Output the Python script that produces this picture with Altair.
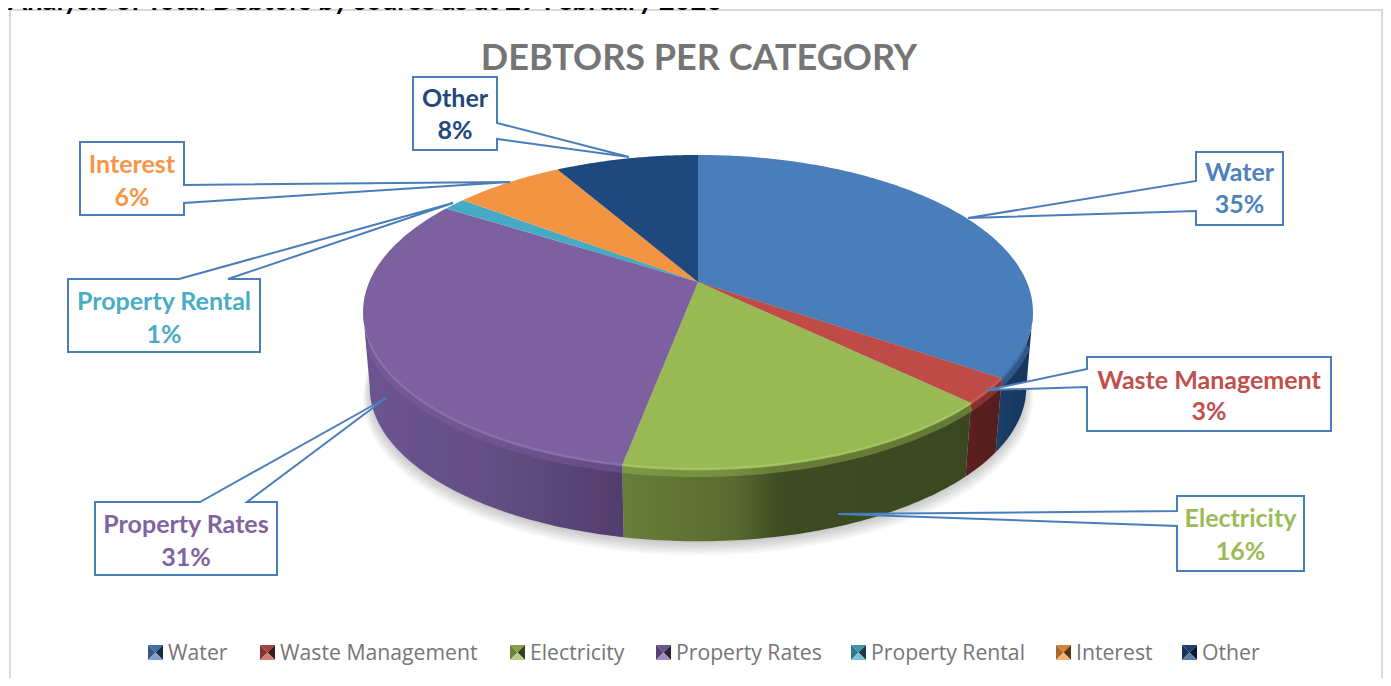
import math
import altair as alt
import pandas as pd

categories = ["Water", "Waste Management", "Electricity", "Property Rates", "Property Rental", "Interest", "Other"]
shares = [34.6, 2.6, 15.8, 31.0, 1.3, 6.4, 8.3]
percent_labels = ["35%", "3%", "16%", "31%", "1%", "6%", "8%"]
slice_colors = ["#4a7ebb", "#be4b48", "#98b954", "#7d60a0", "#46aac5", "#f29441", "#1f497d"]
text_colors = ["#4f81bd", "#c0504d", "#9bbb59", "#8064a2", "#4bacc6", "#f79646", "#1f497d"]
rim_colors = ["#3f6fa8", "#cf5c58", "#a9cb62", "#8d70b2", "#58bcd5", "#fba85c", "#2f5d90"]

PAGE_W, PAGE_H = 1383, 678
FONT = "Lato"
LINE = "#4a7ebb"

# 3-D pie projection
CX, CY = 698, 282
A, B, C = 151.3, 0.191, 328.8
DROP, SHRINK = 76, 0.98
SIDE_FROM, SIDE_TO = 28, 72
SOFT_FROM, SOFT_TO = 31, 69


def project(pct, k=1.0, dy=0.0):
    t = pct / 100 * 2 * math.pi
    u, v = math.sin(t), math.cos(t)
    den = 1 + B * v
    return CX + k * C * u / den, CY + dy - k * A * v / den


def arc(p0, p1, k=1.0, dy=0.0):
    n = max(2, int(abs(p1 - p0) * 4))
    return [project(p0 + (p1 - p0) * i / n, k, dy) for i in range(n + 1)]


def poly_rows(name, pts, color):
    return [{"g": name, "i": i, "x": p[0], "y": p[1], "c": color} for i, p in enumerate(pts)]


def mix(hexa, target, f):
    rgb = [int(hexa[i:i + 2], 16) for i in (1, 3, 5)]
    tgt = [int(target[i:i + 2], 16) for i in (1, 3, 5)]
    return "#" + "".join(f"{round(a + (b - a) * f):02x}" for a, b in zip(rgb, tgt))


X = alt.X("x:Q", scale=alt.Scale(domain=[8, PAGE_W], nice=False, zero=False), axis=None)
Y = alt.Y("y:Q", scale=alt.Scale(domain=[PAGE_H, 8], nice=False, zero=False), axis=None)


def polygons(rows):
    df = pd.DataFrame(rows)
    return alt.Chart(df).mark_line(interpolate="linear-closed", strokeWidth=0).encode(
        x=X, y=Y, detail="g:N", order=alt.Order("i:Q"),
        fill=alt.Fill("c:N", scale=None),
    )


def gradient_side(pts, stops):
    df = pd.DataFrame(poly_rows("s", pts, "#000000"))
    return alt.Chart(df).mark_line(
        interpolate="linear-closed", strokeWidth=0,
        fill=alt.Gradient(gradient="linear", x1=0, x2=1, y1=0, y2=0,
                          stops=[alt.GradientStop(offset=o, color=c) for o, c in stops]),
    ).encode(x=X, y=Y, order=alt.Order("i:Q"))


# cumulative boundaries
bounds = [0.0]
for s in shares:
    bounds.append(bounds[-1] + s)

layers = []

# frame
frame = pd.DataFrame({"x": [10, 10, 1382, 1382], "y": [678, 10, 10, 678], "i": [0, 1, 2, 3]})
layers.append(alt.Chart(frame).mark_line(color="#d9d9d9", strokeWidth=2).encode(x=X, y=Y, order=alt.Order("i:Q")))

# soft shadow beneath the pie
for j in range(6):
    pts = arc(0, 100, SHRINK + 0.004 * j, DROP + 2 + 1.6 * j)
    sdf = pd.DataFrame(poly_rows(f"sh{j}", pts, "#000000"))
    layers.append(alt.Chart(sdf).mark_line(interpolate="linear-closed", strokeWidth=0, fill="#000000", fillOpacity=0.035)
                  .encode(x=X, y=Y, order=alt.Order("i:Q")))


def side_pts(p0, p1):
    return arc(p0, p1) + arc(p1, p0, SHRINK, DROP)


# side walls
layers.append(gradient_side(side_pts(SIDE_FROM, bounds[1]), [(0, "#1b4069"), (1, "#15345a")]))
layers.append(gradient_side(side_pts(bounds[1], bounds[2]), [(0, "#5c2020"), (1, "#531c1c")]))
layers.append(gradient_side(side_pts(bounds[2], bounds[3]),
                            [(0, "#3a4720"), (0.55, "#3e4c22"), (0.68, "#5a6a30"), (1, "#677f39")][::-1] and
                            [(0, "#677f39"), (0.32, "#5a6a30"), (0.45, "#3e4c22"), (1, "#3a4720")]))
layers.append(gradient_side(side_pts(bounds[3], SIDE_TO),
                            [(0, "#6c5491"), (0.45, "#654f85"), (1, "#523d6d")]))

# soft transition from the top face into the wall
soft = []
for i, name in enumerate(categories):
    p0, p1 = max(bounds[i], SOFT_FROM), min(bounds[i + 1], SOFT_TO)
    if p1 > p0:
        soft += poly_rows(name, arc(p0, p1, 1.0, 4), slice_colors[i])
layers.append(alt.Chart(pd.DataFrame(soft)).mark_line(strokeWidth=8, strokeOpacity=0.45).encode(
    x=X, y=Y, detail="g:N", order=alt.Order("i:Q"), color=alt.Color("c:N", scale=None)))

# top faces
tops = []
for i, name in enumerate(categories):
    tops += poly_rows(name, [(CX, CY)] + arc(bounds[i], bounds[i + 1]), slice_colors[i])
layers.append(polygons(tops))

# bevel on the front rim
rim = []
for i, name in enumerate(categories):
    p0, p1 = max(bounds[i], SOFT_FROM), min(bounds[i + 1], SOFT_TO)
    if p1 > p0:
        rim += poly_rows(name, arc(p0, p1), rim_colors[i])
layers.append(alt.Chart(pd.DataFrame(rim)).mark_line(strokeWidth=2.5, strokeOpacity=0.8).encode(
    x=X, y=Y, detail="g:N", order=alt.Order("i:Q"), color=alt.Color("c:N", scale=None)))

# callouts: outline positions in page pixels (box corners, wedge base, wedge tip)
boxes = {
    "Water": (1196, 152, 1283, 225),
    "Waste Management": (1087, 357, 1331, 431),
    "Electricity": (1177, 496, 1304, 571),
    "Property Rates": (95, 502, 277, 575),
    "Property Rental": (68, 279, 260, 352),
    "Interest": (80, 142, 184, 215),
    "Other": (413, 77, 497, 150),
}
wedges = {
    "Water": ("left", 181, 211, 968, 218),
    "Waste Management": ("left", 369, 387, 987, 390),
    "Electricity": ("left", 511, 526, 838, 514),
    "Property Rates": ("top", 200, 247, 386, 398),
    "Property Rental": ("top", 179, 228, 453, 203),
    "Interest": ("right", 185, 203, 510, 182),
    "Other": ("right", 123, 139, 629, 157),
}
text_y = {
    "Water": (173, 205),
    "Waste Management": (381, 412),
    "Electricity": (519, 552),
    "Property Rates": (525, 558),
    "Property Rental": (302, 335),
    "Interest": (165, 198),
    "Other": (99, 131),
}

for name in categories:
    x0, y0, x1, y1 = boxes[name]
    side, a, b, tx, ty = wedges[name]
    if side == "left":
        pts = [(x0, y0), (x1, y0), (x1, y1), (x0, y1), (x0, b), (tx, ty), (x0, a)]
    elif side == "right":
        pts = [(x0, y0), (x1, y0), (x1, a), (tx, ty), (x1, b), (x1, y1), (x0, y1)]
    else:
        pts = [(x0, y0), (a, y0), (tx, ty), (b, y0), (x1, y0), (x1, y1), (x0, y1)]
    df = pd.DataFrame(poly_rows(name, pts, "#ffffff"))
    layers.append(alt.Chart(df).mark_line(interpolate="linear-closed", fill="#ffffff", stroke=LINE, strokeWidth=2)
                  .encode(x=X, y=Y, order=alt.Order("i:Q")))

labels = []
for i, name in enumerate(categories):
    x0, _, x1, _ = boxes[name]
    mid = (x0 + x1) / 2
    labels.append({"x": mid, "y": text_y[name][0], "t": name, "c": text_colors[i]})
    labels.append({"x": mid, "y": text_y[name][1], "t": percent_labels[i], "c": text_colors[i]})
layers.append(alt.Chart(pd.DataFrame(labels)).mark_text(font=FONT, fontWeight="bold", fontSize=25, baseline="middle", align="center")
              .encode(x=X, y=Y, text="t:N", color=alt.Color("c:N", scale=None)))

# titles
layers.append(alt.Chart(pd.DataFrame({"x": [699], "y": [59], "t": ["DEBTORS PER CATEGORY"]}))
              .mark_text(font=FONT, fontWeight="bold", fontSize=36, color="#757575", baseline="middle", align="center")
              .encode(x=X, y=Y, text="t:N"))
layers.append(alt.Chart(pd.DataFrame({"x": [8], "y": [10], "t": ["Analysis of Total Debtors by source as at 29 February 2020"]}))
              .mark_text(font=FONT, fontWeight="bold", fontSize=27.5, color="#000000", baseline="alphabetic", align="left")
              .encode(x=X, y=Y, text="t:N"))

# legend
legend_x = [148, 260, 510, 656, 851, 1056, 1182]
LY0, LY1, LS = 645, 660, 15
tri = []
for i, name in enumerate(categories):
    x0 = legend_x[i]
    x1 = x0 + LS
    m = (x0 + x1) / 2, (LY0 + LY1) / 2
    base = slice_colors[i]
    tri += poly_rows(name + "t", [(x0, LY0), (x1, LY0), m], mix(base, "#000000", 0.12))
    tri += poly_rows(name + "l", [(x0, LY0), m, (x0, LY1)], mix(base, "#000000", 0.3))
    tri += poly_rows(name + "r", [(x1, LY0), m, (x1, LY1)], mix(base, "#000000", 0.65))
    tri += poly_rows(name + "b", [(x0, LY1), m, (x1, LY1)], mix(base, "#ffffff", 0.28))
layers.append(polygons(tri))
legend_df = pd.DataFrame({"x": [v + 20 for v in legend_x], "y": [654] * 7, "t": categories})
layers.append(alt.Chart(legend_df).mark_text(font="Open Sans", fontSize=21.2, color="#767676", baseline="middle", align="left")
              .encode(x=X, y=Y, text="t:N"))

chart = alt.layer(*layers).properties(
    width=PAGE_W - 8, height=PAGE_H - 8, padding=0, autosize="none",
    background="#ffffff",
).configure_view(stroke=None)

chart.save("out.html", embed_options={"renderer": "svg", "actions": False})
